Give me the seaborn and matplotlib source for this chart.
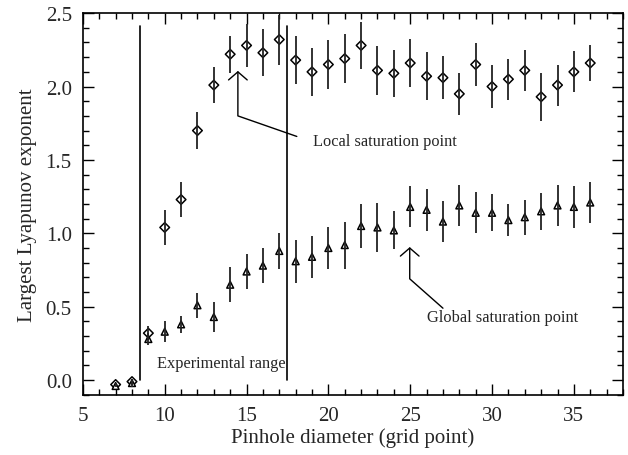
import numpy as np
import pandas as pd
import matplotlib
matplotlib.use("Agg")
import matplotlib.pyplot as plt
import seaborn as sns
from matplotlib.ticker import MultipleLocator, FormatStrFormatter

sns.set_theme(style="ticks")
plt.rcParams["font.family"] = ["Liberation Serif", "DejaVu Serif"]

# Pinhole diameters (grid points)
diameter = list(range(7, 37))

# Local exponent (diamonds) and its error
local_val = [-0.03, -0.01, 0.32, 1.04, 1.23, 1.70, 2.01, 2.22, 2.28, 2.23,
             2.32, 2.18, 2.10, 2.15, 2.19, 2.28, 2.11, 2.09, 2.16, 2.07,
             2.06, 1.95, 2.15, 2.00, 2.05, 2.11, 1.93, 2.01, 2.10, 2.16]
local_err = [0.01, 0.02, 0.05, 0.12, 0.12, 0.125, 0.125, 0.125, 0.145, 0.16,
             0.17, 0.165, 0.165, 0.165, 0.165, 0.16, 0.165, 0.16, 0.165, 0.165,
             0.145, 0.145, 0.145, 0.145, 0.14, 0.14, 0.165, 0.14, 0.14, 0.12]

# Global exponent (triangles) and its error
global_val = [-0.04, -0.02, 0.28, 0.33, 0.38, 0.51, 0.43, 0.65, 0.74, 0.78,
              0.88, 0.81, 0.84, 0.90, 0.92, 1.05, 1.04, 1.02, 1.18, 1.16,
              1.08, 1.19, 1.14, 1.14, 1.09, 1.11, 1.15, 1.19, 1.18, 1.21]
global_err = [0.01, 0.03, 0.04, 0.07, 0.06, 0.085, 0.105, 0.12, 0.12, 0.12,
              0.125, 0.145, 0.145, 0.145, 0.16, 0.15, 0.165, 0.13, 0.14, 0.145,
              0.14, 0.14, 0.14, 0.125, 0.11, 0.12, 0.125, 0.14, 0.145, 0.14]

range_lines = [8.5, 17.5]

df = pd.DataFrame({
    "d": diameter * 2,
    "lam": local_val + global_val,
    "err": local_err + global_err,
    "kind": ["local"] * len(diameter) + ["global"] * len(diameter),
})

fig = plt.figure(figsize=(6.28, 4.56), dpi=100)
ax = fig.add_axes([0.132, 0.132, 0.860, 0.837])

sns.scatterplot(data=df, x="d", y="lam", style="kind",
                markers={"local": "D", "global": "^"},
                s=24, facecolor="white", edgecolor="black", linewidth=1.1,
                legend=False, ax=ax, zorder=2)

# error bars run through the open markers
for kind in ["local", "global"]:
    sub = df[df["kind"] == kind]
    ax.errorbar(sub["d"], sub["lam"], yerr=sub["err"], fmt="none",
                ecolor="#222222", elinewidth=1.3, capsize=0, zorder=3)

for xv in range_lines:
    ax.plot([xv, xv], [0.0, 2.41], color="black", lw=1.2, zorder=1)

ax.text(9.5, 0.12, "Experimental range", fontsize=11.8, va="center", ha="left")

# Local saturation arrow
ax.plot([14.47, 14.47, 18.07], [2.10, 1.80, 1.66], color="black", lw=1.0)
ax.plot([13.9, 14.47, 15.04], [2.045, 2.10, 2.045], color="black", lw=1.0)
ax.text(19.05, 1.63, "Local saturation point", fontsize=11.8, va="center", ha="left")

# Global saturation arrow
ax.plot([24.97, 24.97, 27.0], [0.90, 0.69, 0.49], color="black", lw=1.0)
ax.plot([24.4, 24.97, 25.54], [0.845, 0.90, 0.845], color="black", lw=1.0)
ax.text(26.0, 0.43, "Global saturation point", fontsize=11.8, va="center", ha="left")

ax.set_xlim(5, 38)
ax.set_ylim(-0.1, 2.5)
ax.xaxis.set_major_locator(MultipleLocator(5))
ax.xaxis.set_minor_locator(MultipleLocator(1))
ax.yaxis.set_major_locator(MultipleLocator(0.5))
ax.yaxis.set_minor_locator(MultipleLocator(0.1))
ax.yaxis.set_major_formatter(FormatStrFormatter("%.1f"))
ax.tick_params(which="both", direction="in", top=True, right=True, color="black")
ax.tick_params(which="major", length=8, width=1.0, labelsize=15, pad=8)
ax.tick_params(which="minor", length=4, width=1.0)
for s in ax.spines.values():
    s.set_color("black")
    s.set_linewidth(1.2)

ax.set_xlabel("Pinhole diameter (grid point)", fontsize=15, labelpad=2)
ax.set_ylabel("Largest Lyapunov exponent", fontsize=15, labelpad=6)

fig.savefig("out.png", dpi=100, facecolor="white")
